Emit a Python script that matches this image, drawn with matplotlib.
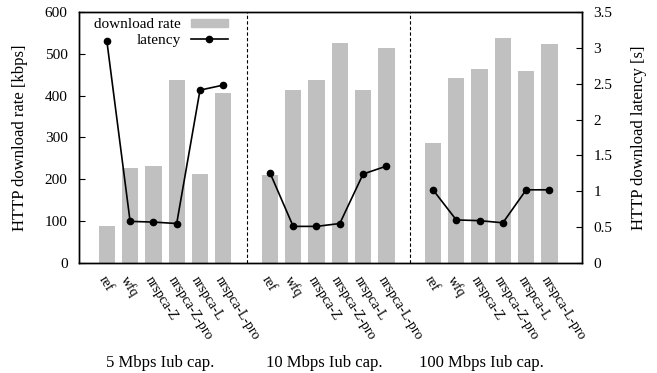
import numpy as np
import matplotlib
matplotlib.use("Agg")
import matplotlib.pyplot as plt
from matplotlib.lines import Line2D
from matplotlib.patches import Patch

plt.rcParams["font.family"] = ["Liberation Serif", "DejaVu Serif"]
plt.rcParams["font.size"] = 11

# Data
schemes = ["ref", "wfq", "nrspca-Z", "nrspca-Z-pro", "nrspca-L", "nrspca-L-pro"]
groups = ["5 Mbps Iub cap.", "10 Mbps Iub cap.", "100 Mbps Iub cap."]
rate_5 = [88, 227, 231, 437, 212, 406]
rate_10 = [210, 413, 437, 526, 413, 514]
rate_100 = [287, 442, 464, 538, 459, 524]
lat_5 = [3.10, 0.58, 0.57, 0.55, 2.41, 2.48]
lat_10 = [1.26, 0.51, 0.51, 0.55, 1.24, 1.35]
lat_100 = [1.02, 0.60, 0.59, 0.56, 1.02, 1.02]

rates = [rate_5, rate_10, rate_100]
lats = [lat_5, lat_10, lat_100]

fig = plt.figure(figsize=(6.57, 3.73), dpi=100)
ax = fig.add_axes([0.120, 0.295, 0.766, 0.673])
ax2 = ax.twinx()

bar_color = "#c0c0c0"
ticks, labels = [], []
for g in range(3):
    x = np.arange(len(schemes)) + g * 7
    ax.bar(x, rates[g], width=0.7, color=bar_color, zorder=2)
    ax2.plot(x, lats[g], color="black", marker="o", markersize=4.5, lw=1.2, zorder=3)
    ticks += list(x)
    labels += schemes
    if g > 0:
        ax.axvline(g * 7 - 1, color="black", ls=(0, (3, 2)), lw=0.8)

ax.set_xlim(-1.2, 20.4)
ax.set_ylim(0, 600)
ax2.set_ylim(0, 3.5)
ax.set_yticks(np.arange(0, 601, 100))
ax2.set_yticks(np.arange(0, 3.51, 0.5))
ax2.set_yticklabels(["0", "0.5", "1", "1.5", "2", "2.5", "3", "3.5"])

ax.set_xticks(ticks)
ax.set_xticklabels(labels, rotation=-58, ha="left", va="top", rotation_mode="anchor", fontsize=10)
ax.tick_params(axis="x", length=0, pad=8)
ax.tick_params(axis="y", direction="in", length=4, pad=8)
ax2.tick_params(axis="y", direction="in", length=4, pad=8)

ax.set_ylabel("HTTP download rate [kbps]", fontsize=12)
ax2.set_ylabel("HTTP download latency [s]", fontsize=12)
ax.yaxis.set_label_coords(-0.101, 0.5)
ax2.yaxis.set_label_coords(1.097, 0.5)

for sp in list(ax.spines.values()) + list(ax2.spines.values()):
    sp.set_linewidth(1.0)

handles = [Patch(color=bar_color), Line2D([], [], color="black", marker="o", markersize=4.5, lw=1.2)]
ax2.legend(handles, ["download rate", "latency"], loc="upper right", markerfirst=False,
           frameon=False, bbox_to_anchor=(0.296, 0.975), handlelength=2.4, handleheight=0.45,
           labelspacing=0.2, borderpad=0, borderaxespad=0, handletextpad=0.7)

for g, name in enumerate(groups):
    xd = [2.3, 9.35, 16.1][g]
    ax.text(xd, -0.398, name, transform=ax.get_xaxis_transform(), ha="center", va="center",
            fontsize=12)

fig.savefig("out.png", dpi=100)
